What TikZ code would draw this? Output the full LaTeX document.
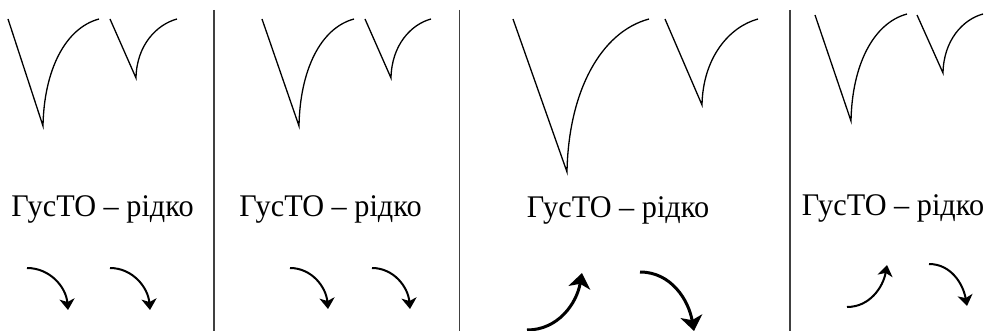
\documentclass[tikz,border=0pt]{standalone}
\usepackage{fontspec}
\setmainfont{Liberation Serif}
\usetikzlibrary{arrows.meta}
\newcommand{\lbltext}{\scalebox{0.96}[1]{ГусТО – рідко}}
\tikzset{
  vline/.style={line width=1.3pt, black},
  vcurve/.style={out=89, in=195, out looseness=1.18, in looseness=0.74},
  divider/.style={line width=1.6pt, black!75},
  lbl/.style={anchor=base, inner sep=0pt, font=\fontsize{31.5}{36}\selectfont},
  thinarrow/.style={line width=2pt, -{Stealth[length=11pt, width=15pt, inset=3pt]}},
  thickarrow/.style={line width=3pt, -{Stealth[length=15pt, width=22pt, inset=4pt]}},
}
\begin{document}
\begin{tikzpicture}[x=1pt,y=1pt]
\useasboundingbox (0,0) rectangle (987,-331);
% dividers
\coordinate (d1t) at (214,-10);   \coordinate (d1b) at (214,-331);
\coordinate (d2t) at (459.5,-10); \coordinate (d2b) at (459.5,-331);
\coordinate (d3t) at (790,-10);   \coordinate (d3b) at (790,-331);
\draw[divider] (d1t) -- (d1b);
\draw[divider] (d2t) -- (d2b);
\draw[divider] (d3t) -- (d3b);
% V shapes: panel 1
\draw[vline] (8,-19) -- (43,-126) to[vcurve] (99,-19);
\draw[vline] (110,-19) -- (136,-78) to[vcurve] (177,-19);
% panel 2
\draw[vline] (262,-19) -- (299,-126) to[vcurve] (354,-19);
\draw[vline] (365,-19) -- (391,-78) to[vcurve] (431,-19);
% panel 3
\draw[vline] (513,-19) -- (567,-172) to[vcurve] (649,-19);
\draw[vline] (665,-19) -- (702,-105) to[vcurve] (758,-19);
% panel 4
\draw[vline] (815,-15) -- (851,-121) to[vcurve] (907,-14);
\draw[vline] (917,-15) -- (943,-73) to[vcurve] (983,-14);
% labels
\node[lbl] (t1) at (102.5,-216) {\lbltext};
\node[lbl] (t2) at (330.5,-216) {\lbltext};
\node[lbl] (t3) at (618,-217) {\lbltext};
\node[lbl] (t4) at (893,-215) {\lbltext};
% arrows
\coordinate (a1s) at (27,-268);  \coordinate (a1e) at (68,-310);
\coordinate (a2s) at (110,-268); \coordinate (a2e) at (150,-310);
\coordinate (a3s) at (290,-268); \coordinate (a3e) at (328,-309);
\coordinate (a4s) at (372,-268); \coordinate (a4e) at (410,-309);
\coordinate (a5s) at (527,-330); \coordinate (a5e) at (582,-273);
\coordinate (a6s) at (640,-272); \coordinate (a6e) at (694,-331);
\coordinate (a7s) at (847,-307); \coordinate (a7e) at (887,-265);
\coordinate (a8s) at (929,-264); \coordinate (a8e) at (967,-306);
\draw[thinarrow] (a1s) to[out=0,in=95] (a1e);
\draw[thinarrow] (a2s) to[out=0,in=95] (a2e);
\draw[thinarrow] (a3s) to[out=0,in=95] (a3e);
\draw[thinarrow] (a4s) to[out=0,in=95] (a4e);
\draw[thickarrow] (a5s) to[out=0,in=-100] (a5e);
\draw[thickarrow] (a6s) to[out=0,in=100] (a6e);
\draw[thinarrow] (a7s) to[out=0,in=-100] (a7e);
\draw[thinarrow] (a8s) to[out=0,in=100] (a8e);
\end{tikzpicture}
\end{document}
